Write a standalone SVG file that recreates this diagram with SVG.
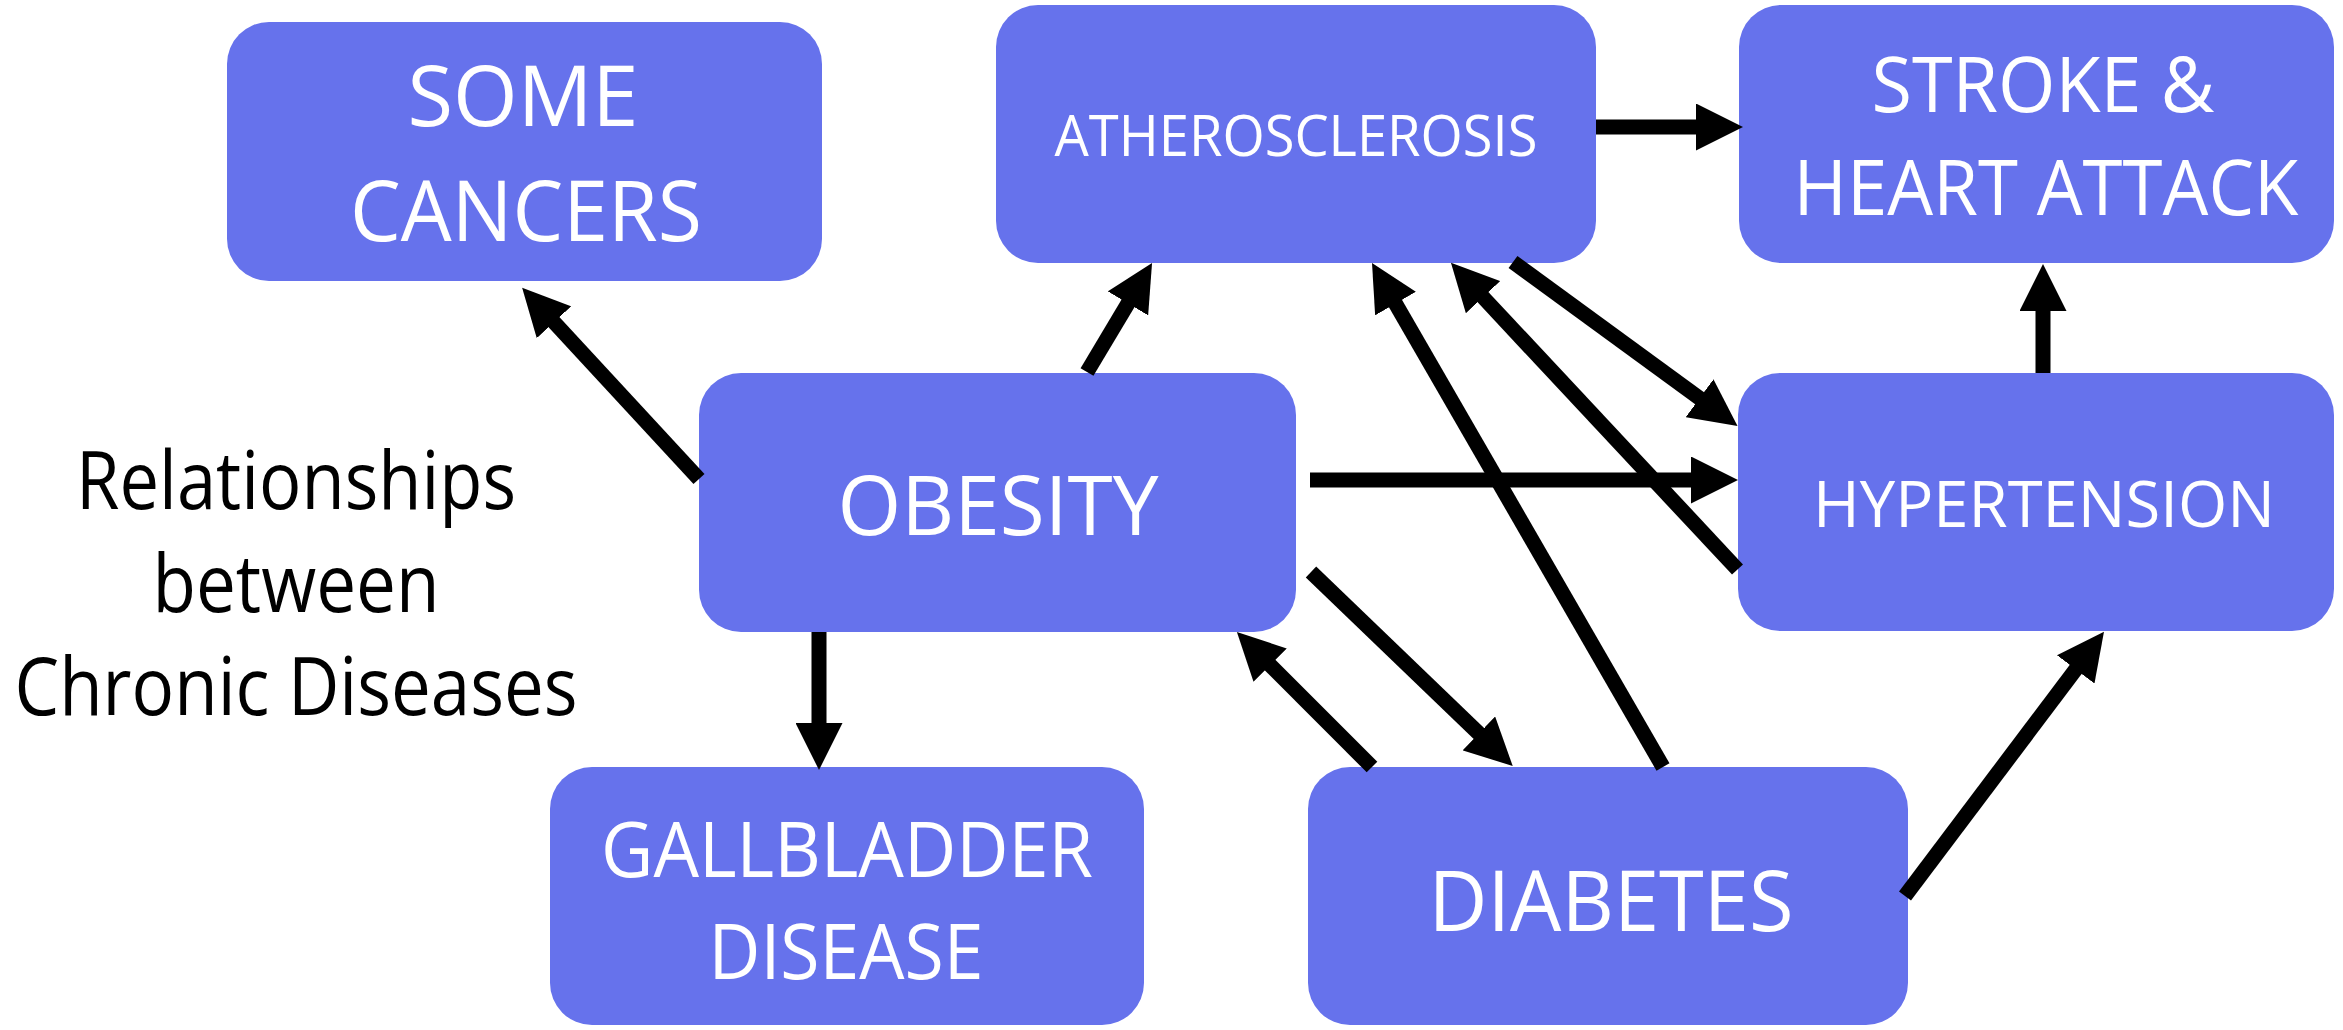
<svg xmlns="http://www.w3.org/2000/svg" width="2343" height="1030" viewBox="0 0 2343 1030">
<style>
.box{fill:#6672EC}
.t{font-family:"Open Sans","Liberation Sans",sans-serif;fill:#fff;text-anchor:middle}
.title{font-family:"Open Sans","Liberation Sans",sans-serif;fill:#000;text-anchor:middle;font-size:80px}
.c line{stroke:#000;stroke-width:15;marker-end:url(#ah)}
</style>
<defs>
<marker id="ah" markerUnits="userSpaceOnUse" markerWidth="47" markerHeight="47" refX="3" refY="23.5" orient="auto" viewBox="0 0 47 47">
<path d="M0,0 L47,23.5 L0,47 Z" fill="#000"/>
</marker>
</defs>
<g id="title">
<text class="title" x="296" y="509" textLength="440" lengthAdjust="spacingAndGlyphs">Relationships</text>
<text class="title" x="296" y="612" textLength="287" lengthAdjust="spacingAndGlyphs">between</text>
<text class="title" x="296" y="715" textLength="563" lengthAdjust="spacingAndGlyphs">Chronic Diseases</text>
</g>
<g id="cancers">
<rect class="box" x="227" y="22" width="595" height="259" rx="42"/>
<text class="t" x="523" y="126" font-size="85" textLength="231" lengthAdjust="spacingAndGlyphs">SOME</text>
<text class="t" x="526" y="241" font-size="85" textLength="352" lengthAdjust="spacingAndGlyphs">CANCERS</text>
</g>
<g id="atherosclerosis">
<rect class="box" x="996" y="5" width="600" height="258" rx="42"/>
<text class="t" x="1296" y="156" font-size="56" textLength="483" lengthAdjust="spacingAndGlyphs">ATHEROSCLEROSIS</text>
</g>
<g id="stroke">
<rect class="box" x="1739" y="5" width="595" height="258" rx="42"/>
<text class="t" x="2043" y="112" font-size="76" textLength="343" lengthAdjust="spacingAndGlyphs">STROKE &amp;</text>
<text class="t" x="2046" y="215" font-size="76" textLength="505" lengthAdjust="spacingAndGlyphs">HEART ATTACK</text>
</g>
<g id="obesity">
<rect class="box" x="699" y="373" width="597" height="259" rx="42"/>
<text class="t" x="998" y="535" font-size="83" textLength="321" lengthAdjust="spacingAndGlyphs">OBESITY</text>
</g>
<g id="hypertension">
<rect class="box" x="1738" y="373" width="596" height="258" rx="42"/>
<text class="t" x="2044" y="527" font-size="64" textLength="462" lengthAdjust="spacingAndGlyphs">HYPERTENSION</text>
</g>
<g id="gallbladder">
<rect class="box" x="550" y="767" width="594" height="258" rx="42"/>
<text class="t" x="847" y="877" font-size="76" textLength="492" lengthAdjust="spacingAndGlyphs">GALLBLADDER</text>
<text class="t" x="846" y="979" font-size="76" textLength="275" lengthAdjust="spacingAndGlyphs">DISEASE</text>
</g>
<g id="diabetes">
<rect class="box" x="1308" y="767" width="600" height="258" rx="42"/>
<text class="t" x="1611" y="931" font-size="85" textLength="365" lengthAdjust="spacingAndGlyphs">DIABETES</text>
</g>
<g id="connectors" class="c">
<line x1="699" y1="479" x2="552" y2="320"/>
<line x1="1087" y1="372" x2="1129.5" y2="300.8"/>
<line x1="1663" y1="767" x2="1394" y2="301"/>
<line x1="1737.5" y1="569.5" x2="1481" y2="295"/>
<line x1="1513" y1="262" x2="1702" y2="400"/>
<line x1="1310" y1="480" x2="1694" y2="480"/>
<line x1="1311" y1="572" x2="1481" y2="735.5"/>
<line x1="1372" y1="767" x2="1268" y2="663"/>
<line x1="1905" y1="896" x2="2077.5" y2="667"/>
<line x1="819" y1="632" x2="819" y2="726"/>
<line x1="2043" y1="373" x2="2043" y2="308"/>
<line x1="1596" y1="127" x2="1699" y2="127"/>
</g>
</svg>
